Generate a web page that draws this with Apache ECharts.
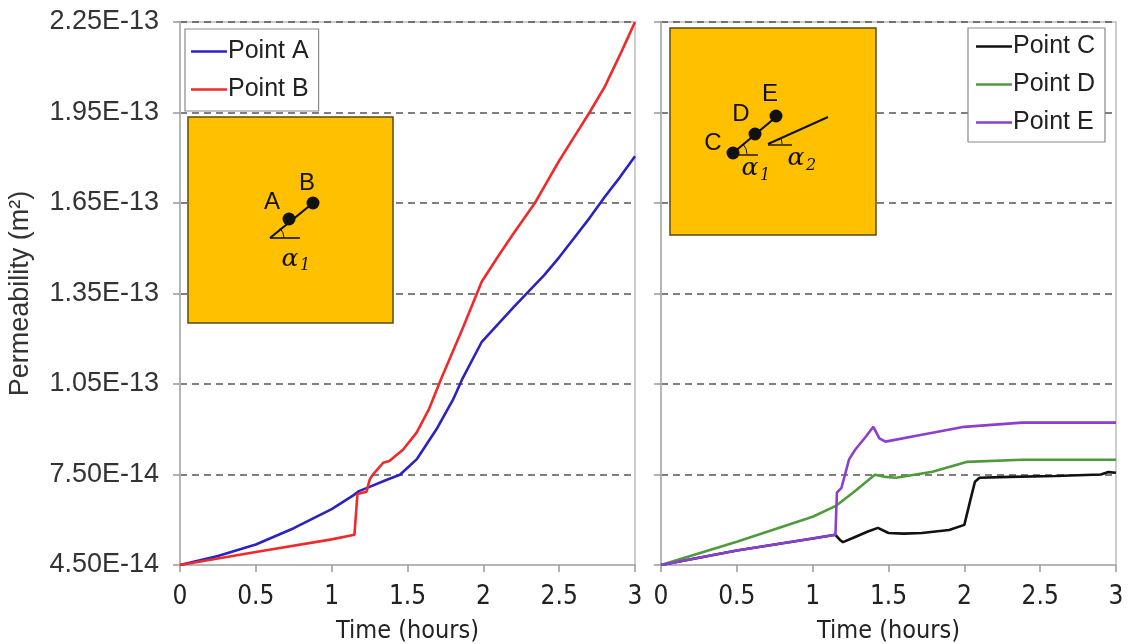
<!DOCTYPE html>
<html><head><meta charset="utf-8">
<script src="https://cdn.jsdelivr.net/npm/echarts@6/dist/echarts.min.js"></script>
<style>html,body{margin:0;padding:0;background:#fff}#c{width:1130px;height:644px}</style>
</head><body><div id="c"></div><script>
// values in units of 1e-14 m^2
const UNIT = 1e-14;
const xTicks = [0, 0.5, 1, 1.5, 2, 2.5, 3];
const yTicks = [4.5, 7.5, 10.5, 13.5, 16.5, 19.5, 22.5];
const seriesNames = ['Point A', 'Point B', 'Point C', 'Point D', 'Point E'];

const tA = [0, 0.25, 0.5, 0.75, 1.0, 1.14, 1.18, 1.25, 1.36, 1.45, 1.56, 1.69, 1.8, 1.86, 1.99, 2.1, 2.2, 2.28, 2.4, 2.5, 2.6, 2.7, 2.8, 2.9, 3.0];
const vA = [4.5, 4.8, 5.18, 5.72, 6.35, 6.8, 6.95, 7.09, 7.32, 7.49, 8.0, 8.99, 9.98, 10.65, 11.9, 12.5, 13.05, 13.47, 14.1, 14.7, 15.35, 16.0, 16.7, 17.35, 18.05];

const tB = [0, 0.5, 1.0, 1.15, 1.17, 1.23, 1.25, 1.27, 1.34, 1.38, 1.47, 1.56, 1.64, 1.72, 1.86, 1.99, 2.1, 2.2, 2.34, 2.42, 2.5, 2.6, 2.7, 2.8, 2.9, 2.95, 3.0];
const vB = [4.5, 4.93, 5.35, 5.5, 6.85, 6.93, 7.32, 7.49, 7.89, 7.95, 8.32, 8.89, 9.65, 10.65, 12.3, 13.9, 14.75, 15.5, 16.5, 17.2, 17.9, 18.7, 19.5, 20.35, 21.4, 21.95, 22.5];

const tC = [0, 0.5, 1.0, 1.15, 1.18, 1.2, 1.28, 1.36, 1.43, 1.5, 1.6, 1.72, 1.9, 2.0, 2.04, 2.07, 2.1, 2.3, 2.6, 2.9, 2.95, 3.0];
const vC = [4.5, 4.98, 5.38, 5.5, 5.33, 5.26, 5.43, 5.6, 5.73, 5.56, 5.54, 5.56, 5.66, 5.83, 6.66, 7.26, 7.39, 7.42, 7.45, 7.5, 7.58, 7.56];

const tD = [0, 0.5, 1.0, 1.15, 1.28, 1.41, 1.48, 1.55, 1.79, 2.02, 2.38, 3.0];
const vD = [4.5, 5.27, 6.1, 6.45, 6.95, 7.49, 7.42, 7.39, 7.59, 7.92, 7.99, 7.99];

const tE = [0, 0.5, 1.0, 1.15, 1.16, 1.19, 1.24, 1.28, 1.35, 1.40, 1.44, 1.48, 1.72, 2.0, 2.38, 3.0];
const vE = [4.5, 4.98, 5.38, 5.5, 6.9, 7.06, 8.0, 8.32, 8.75, 9.08, 8.7, 8.59, 8.82, 9.08, 9.22, 9.22];

const colors = ['#2b22c0', '#f02a2a', '#111111', '#4f9a3c', '#8b3fd0'];
const pair = (t, v) => t.map((x, i) => [x, v[i]]);
const seriesData = [pair(tA, vA), pair(tB, vB), pair(tC, vC), pair(tD, vD), pair(tE, vE)];
const panelOf = [0, 0, 1, 1, 1];

const FONT = '"Liberation Sans", Arial, sans-serif';
const NARROW = '"Liberation Sans Narrow", "DejaVu Sans Condensed", "Liberation Sans", sans-serif';

function xAxis(i) {
  return {
    type: 'value', gridIndex: i, min: xTicks[0], max: xTicks[xTicks.length - 1], interval: 0.5,
    name: 'Time (hours)', nameLocation: 'middle', nameGap: 54,
    nameTextStyle: { fontFamily: NARROW, fontSize: 25, color: '#222' },
    axisLine: { lineStyle: { color: '#b5b5b5', width: 2 } },
    axisTick: { show: true, length: 7, lineStyle: { color: '#999', width: 1.5 } },
    axisLabel: { fontFamily: NARROW, fontSize: 26, color: '#222', margin: 19, formatter: v => String(v) },
    splitLine: { show: false }
  };
}
function yAxis(i) {
  return {
    type: 'value', gridIndex: i, min: yTicks[0], max: yTicks[yTicks.length - 1], interval: 3,
    name: i === 0 ? 'Permeability (m²)' : '', nameLocation: 'middle', nameGap: 146,
    nameTextStyle: { fontFamily: FONT, fontSize: 27, color: '#333' },
    axisLine: { show: true, lineStyle: { color: '#b5b5b5', width: 2 } },
    axisTick: { show: true, length: 7, lineStyle: { color: '#999', width: 1.5 } },
    axisLabel: { show: i === 0, fontFamily: FONT, fontSize: 27, color: '#333', margin: 21,
      formatter: v => (v * UNIT).toExponential(2).toUpperCase() },
    splitLine: { show: true, lineStyle: { color: '#555', type: [7, 5], width: 1.6 } }
  };
}

const series = seriesNames.map((n, k) => ({
  name: n, type: 'line', xAxisIndex: panelOf[k], yAxisIndex: panelOf[k],
  data: seriesData[k], symbol: 'none', smooth: false,
  lineStyle: { color: colors[k], width: 2.6 }, itemStyle: { color: colors[k] }, z: 5
}));

const legendCommon = {
  orient: 'vertical', backgroundColor: '#fff', borderColor: '#8a8a8a', borderWidth: 1.2,
  icon: 'rect', itemWidth: 36, itemHeight: 2.6, itemGap: 13, borderRadius: 0,
  textStyle: { fontFamily: FONT, fontSize: 25, color: '#222', padding: [0, 0, 0, -4] }
};

const INSET = '#ffc000';
const ink = '#111';
function txt(x, y, s, size, italic) {
  return { type: 'text', z: 20, x: x, y: y, style: { text: s, fontFamily: italic ? '"DejaVu Serif", serif' : FONT,
    fontStyle: italic ? 'italic' : 'normal', fontSize: size, fill: ink, align: 'center', verticalAlign: 'middle' } };
}
function line(x1, y1, x2, y2, w) {
  return { type: 'line', z: 20, shape: { x1, y1, x2, y2 }, style: { stroke: ink, lineWidth: w || 2 } };
}
function dot(x, y) {
  return { type: 'circle', z: 21, shape: { cx: x, cy: y, r: 6.5 }, style: { fill: ink } };
}
function arc(cx, cy, r, a0, a1) {
  return { type: 'arc', z: 20, shape: { cx, cy, r, startAngle: a0, endAngle: a1, clockwise: false }, style: { stroke: ink, lineWidth: 1, fill: null } };
}

const graphic = [
  { type: 'rect', z: 10, shape: { x: 188, y: 117, width: 205, height: 206 }, style: { fill: INSET, stroke: '#5a4a10', lineWidth: 1.5 } },
  line(270, 238, 313, 203, 2.2), line(270, 238, 300, 238, 1.6), arc(270, 238, 14, 0, -Math.PI / 4),
  dot(289, 219), dot(313, 203),
  txt(272, 202, 'A', 24), txt(307, 183, 'B', 24),
  txt(290, 259, 'α', 25, true), txt(305, 266, '1', 16, true),

  { type: 'rect', z: 10, shape: { x: 670, y: 28, width: 206, height: 207 }, style: { fill: INSET, stroke: '#5a4a10', lineWidth: 1.5 } },
  line(733, 153, 776, 117, 2.2), line(733, 155, 758, 155, 1.4), arc(733, 154, 14, 0, -Math.PI / 4.3),
  line(768, 144, 828, 117, 2), line(768, 145, 792, 145, 1.4), arc(768, 144, 14, 0, -0.42),
  dot(733, 153), dot(755, 134), dot(776, 116),
  txt(713, 143, 'C', 24), txt(741, 114, 'D', 24), txt(770, 94, 'E', 24),
  txt(750, 168, 'α', 25, true), txt(765, 176, '1', 16, true),
  txt(796, 158, 'α', 25, true), txt(811, 166, '2', 16, true)
];

const option = {
  animation: false,
  backgroundColor: '#fff',
  grid: [
    { left: 180, top: 22, width: 455, height: 543, show: true, borderColor: '#bdbdbd', borderWidth: 1.5, outerBoundsMode: 'none', containLabel: false },
    { left: 661, top: 22, width: 455, height: 543, show: true, borderColor: '#bdbdbd', borderWidth: 1.5, outerBoundsMode: 'none', containLabel: false }
  ],
  xAxis: [xAxis(0), xAxis(1)],
  yAxis: [yAxis(0), yAxis(1)],
  legend: [
    Object.assign({}, legendCommon, { data: seriesNames.slice(0, 2), left: 185, top: 29, padding: [10, 10, 9, 6] }),
    Object.assign({}, legendCommon, { data: seriesNames.slice(2), left: 968, top: 28, padding: [6, 10, 7, 8] })
  ],
  graphic: graphic,
  series: series
};

const chart = echarts.init(document.getElementById('c'), null, { renderer: 'canvas' });
chart.setOption(option);
</script></body></html>
